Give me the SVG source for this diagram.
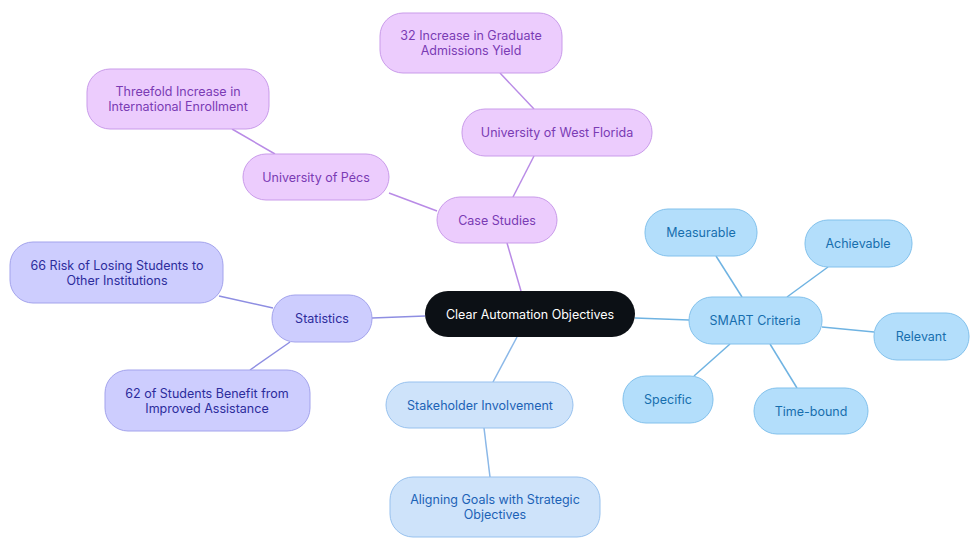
<svg xmlns="http://www.w3.org/2000/svg" width="980" height="553" viewBox="0 0 980 553">
<style>
text{font-family:Inter,"Noto Sans","Liberation Sans",sans-serif;font-size:12.5px;text-anchor:middle;dominant-baseline:central}
.p rect{fill:#ECCCFD;stroke:#C99BEA;stroke-width:1}
.p text{fill:#7A3BB4}
.s rect{fill:#CDCDFE;stroke:#A3A3EC;stroke-width:1}
.s text{fill:#2C2C9C}
.b rect{fill:#B3DEFB;stroke:#82C1EC;stroke-width:1}
.b text{fill:#176EAE}
.k rect{fill:#CEE3FA;stroke:#97C1EE;stroke-width:1}
.k text{fill:#1C62B6}
.r rect{fill:#0C1015}
.r text{fill:#FFFFFF}
.lp{stroke:#B98BE6;stroke-width:1.5;fill:none}
.ls{stroke:#8E8EE2;stroke-width:1.5;fill:none}
.lb{stroke:#6FB3E2;stroke-width:1.5;fill:none}
.lk{stroke:#8BB8E8;stroke-width:1.5;fill:none}
</style>
<g id="connectors">
<line class="lp" x1="521" y1="291" x2="507" y2="243"/>
<line class="lp" x1="513" y1="197" x2="534" y2="156"/>
<line class="lp" x1="500" y1="73" x2="534" y2="109"/>
<line class="lp" x1="437" y1="211" x2="389" y2="193"/>
<line class="lp" x1="232" y1="129" x2="275" y2="154"/>
<line class="ls" x1="425" y1="316" x2="372" y2="318"/>
<line class="ls" x1="219" y1="296" x2="273" y2="308"/>
<line class="ls" x1="290" y1="342" x2="250" y2="370"/>
<line class="lb" x1="635" y1="318" x2="689" y2="320"/>
<line class="lb" x1="716" y1="256" x2="742" y2="297"/>
<line class="lb" x1="828" y1="267" x2="787" y2="297"/>
<line class="lb" x1="822" y1="327" x2="874" y2="332"/>
<line class="lb" x1="730" y1="344" x2="694" y2="376"/>
<line class="lb" x1="770" y1="344" x2="797" y2="388"/>
<line class="lk" x1="517" y1="337" x2="493" y2="382"/>
<line class="lk" x1="484" y1="428" x2="490" y2="477"/>
</g>
<g id="root" class="r"><rect x="425" y="291" width="210" height="46" rx="23"/><text x="530" y="314">Clear Automation Objectives</text></g>
<g id="case-studies" class="p"><rect x="437" y="197" width="120" height="46" rx="23"/><text x="497" y="220">Case Studies</text></g>
<g id="uwf" class="p"><rect x="462" y="109" width="190" height="47" rx="23"/><text x="557" y="132">University of West Florida</text></g>
<g id="yield" class="p"><rect x="380" y="13" width="182" height="60" rx="23"/><text x="471" y="35.5">32 Increase in Graduate</text><text x="471" y="50.5">Admissions Yield</text></g>
<g id="pecs" class="p"><rect x="243" y="154" width="146" height="46" rx="23"/><text x="316" y="177">University of Pécs</text></g>
<g id="threefold" class="p"><rect x="87" y="69" width="182" height="60" rx="23"/><text x="178" y="91.5">Threefold Increase in</text><text x="178" y="106.5">International Enrollment</text></g>
<g id="statistics" class="s"><rect x="272" y="295" width="100" height="47" rx="23"/><text x="322" y="318">Statistics</text></g>
<g id="risk" class="s"><rect x="10" y="242" width="213" height="61" rx="23"/><text x="117" y="265">66 Risk of Losing Students to</text><text x="117" y="280">Other Institutions</text></g>
<g id="benefit" class="s"><rect x="105" y="370" width="205" height="61" rx="23"/><text x="207" y="393">62 of Students Benefit from</text><text x="207" y="408">Improved Assistance</text></g>
<g id="smart" class="b"><rect x="689" y="297" width="133" height="47" rx="23"/><text x="755" y="320">SMART Criteria</text></g>
<g id="measurable" class="b"><rect x="645" y="209" width="112" height="47" rx="23"/><text x="701" y="232">Measurable</text></g>
<g id="achievable" class="b"><rect x="805" y="220" width="107" height="47" rx="23"/><text x="858" y="243">Achievable</text></g>
<g id="relevant" class="b"><rect x="874" y="313" width="95" height="47" rx="23"/><text x="921" y="336">Relevant</text></g>
<g id="specific" class="b"><rect x="623" y="376" width="90" height="47" rx="23"/><text x="668" y="399">Specific</text></g>
<g id="timebound" class="b"><rect x="754" y="388" width="114" height="46" rx="23"/><text x="811" y="411">Time-bound</text></g>
<g id="stakeholder" class="k"><rect x="386" y="382" width="187" height="46" rx="23"/><text x="480" y="405">Stakeholder Involvement</text></g>
<g id="aligning" class="k"><rect x="390" y="477" width="210" height="60" rx="23"/><text x="495" y="499.5">Aligning Goals with Strategic</text><text x="495" y="514.5">Objectives</text></g>
</svg>
